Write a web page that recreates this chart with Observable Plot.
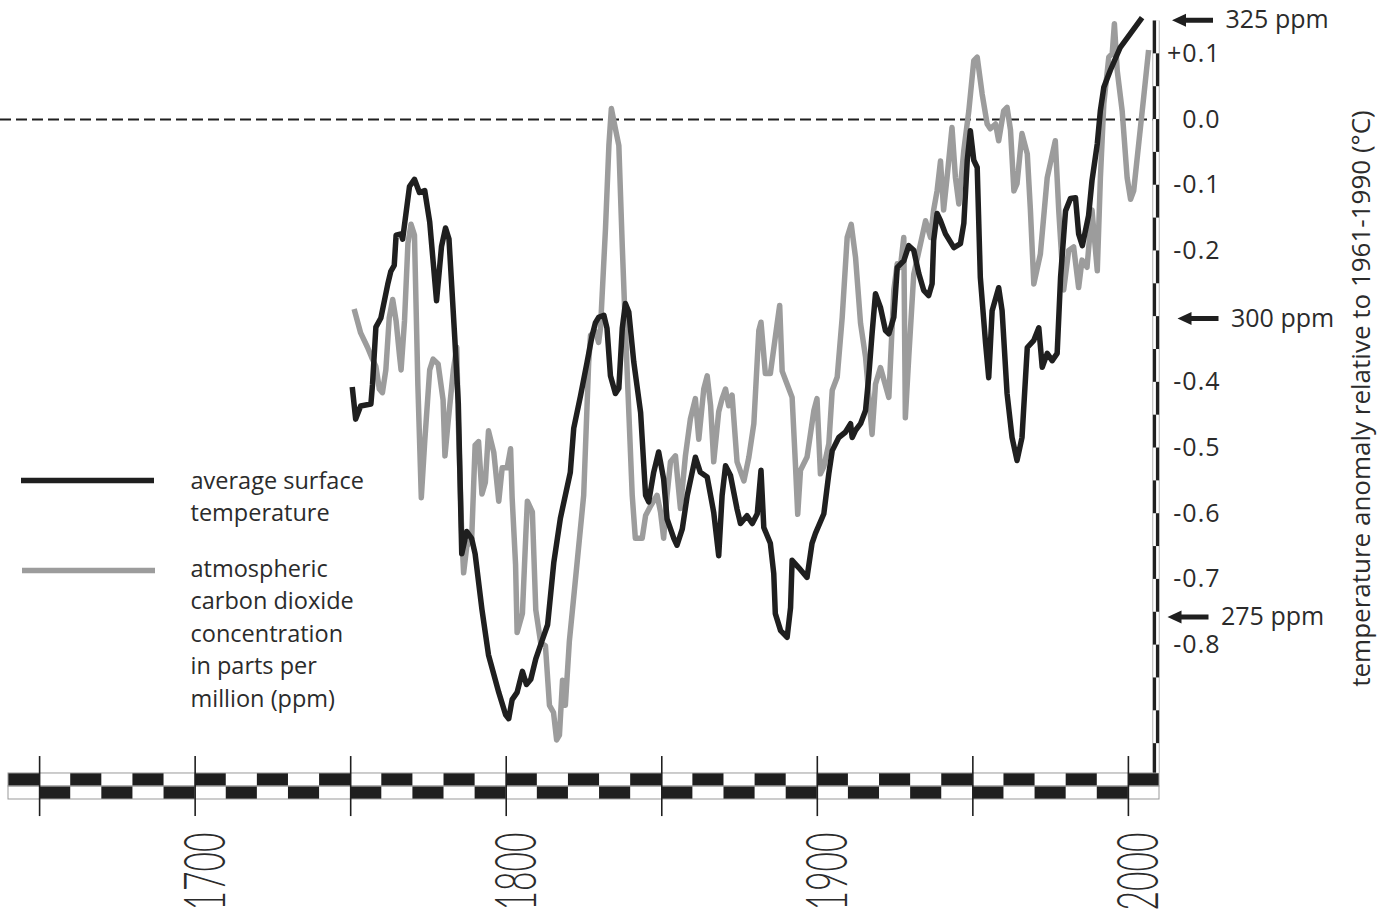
<!DOCTYPE html>
<html>
<head>
<meta charset="utf-8">
<script src="https://cdn.jsdelivr.net/npm/d3@7"></script>
<script src="https://cdn.jsdelivr.net/npm/@observablehq/plot@0.6"></script>
<style>
  html, body { margin: 0; padding: 0; background: #fff; }
  #chart svg { display: block; }
  g[aria-label="y-title"] text { letter-spacing: 1.8px; }
  g[aria-label="legend-text"] text { letter-spacing: 1.8px; }
  g[aria-label="ppm-label"] text { letter-spacing: 1px; }
  g[aria-label="y-axis tick label"] text { letter-spacing: 1px; }
</style>
</head>
<body>
<div id="chart"></div>
<script>
// ---- data ----
const tempYears = [1750.5,1751.6,1753.2,1756.5,1757.0,1758.1,1759.7,1761.9,1762.9,1764.0,1764.6,1766.2,1766.7,1768.9,1770.5,1772.1,1773.8,1775.4,1777.6,1779.2,1780.5,1781.6,1783.5,1784.6,1785.7,1787.3,1788.9,1790.0,1792.2,1794.3,1797.6,1799.8,1800.8,1801.9,1803.5,1805.2,1806.5,1807.9,1809.5,1811.6,1813.3,1815.3,1817.4,1820.6,1821.7,1823.9,1826.0,1827.6,1828.7,1829.7,1831.4,1832.4,1833.5,1835.1,1836.2,1837.3,1838.3,1839.4,1841.0,1843.2,1844.8,1845.8,1847.4,1849.0,1850.6,1851.7,1853.9,1854.9,1856.6,1858.2,1860.8,1862.4,1864.6,1866.7,1868.3,1869.4,1870.5,1872.1,1874.2,1875.3,1877.4,1879.1,1880.7,1881.9,1882.8,1884.9,1886.0,1886.5,1888.2,1890.3,1891.4,1891.9,1894.0,1896.7,1898.3,1899.4,1902.1,1903.7,1904.8,1906.9,1909.0,1910.7,1911.2,1912.3,1913.9,1915.5,1916.5,1917.6,1918.7,1920.3,1921.9,1923.0,1924.6,1925.7,1927.8,1929.4,1931.0,1932.6,1934.2,1935.8,1936.9,1937.4,1938.5,1939.6,1941.2,1943.9,1946.0,1947.1,1948.2,1949.2,1950.3,1951.4,1952.4,1954.1,1955.1,1956.2,1958.3,1959.4,1961.0,1962.6,1964.2,1965.8,1967.5,1969.6,1971.2,1972.3,1973.9,1975.5,1977.1,1978.2,1979.8,1981.4,1983.0,1984.0,1985.2,1987.2,1988.3,1990.0,1991.0,1992.1,1994.2,1997.4,2000.7,2004.4];
const tempValues = [-0.407,-0.456,-0.436,-0.433,-0.404,-0.316,-0.302,-0.251,-0.231,-0.222,-0.176,-0.174,-0.182,-0.102,-0.091,-0.111,-0.108,-0.156,-0.276,-0.193,-0.165,-0.182,-0.336,-0.433,-0.661,-0.627,-0.638,-0.661,-0.746,-0.815,-0.872,-0.906,-0.912,-0.883,-0.872,-0.840,-0.860,-0.852,-0.821,-0.792,-0.769,-0.674,-0.607,-0.537,-0.470,-0.420,-0.369,-0.329,-0.309,-0.301,-0.298,-0.318,-0.390,-0.417,-0.409,-0.318,-0.280,-0.293,-0.369,-0.446,-0.572,-0.582,-0.537,-0.506,-0.547,-0.608,-0.638,-0.648,-0.623,-0.572,-0.514,-0.537,-0.544,-0.598,-0.664,-0.572,-0.527,-0.542,-0.593,-0.615,-0.603,-0.615,-0.600,-0.534,-0.621,-0.645,-0.691,-0.752,-0.778,-0.788,-0.743,-0.671,-0.682,-0.697,-0.645,-0.630,-0.600,-0.539,-0.504,-0.484,-0.476,-0.463,-0.484,-0.473,-0.463,-0.443,-0.393,-0.326,-0.265,-0.286,-0.321,-0.326,-0.301,-0.225,-0.215,-0.192,-0.199,-0.234,-0.260,-0.268,-0.250,-0.184,-0.143,-0.154,-0.174,-0.195,-0.189,-0.158,-0.062,-0.017,-0.062,-0.073,-0.240,-0.341,-0.393,-0.291,-0.256,-0.291,-0.417,-0.484,-0.519,-0.484,-0.347,-0.336,-0.317,-0.377,-0.356,-0.367,-0.356,-0.240,-0.139,-0.120,-0.119,-0.174,-0.192,-0.146,-0.093,-0.037,0.014,0.049,0.075,0.110,0.131,0.155];

const co2Years = [1751.1,1753.2,1755.4,1757.0,1758.1,1759.2,1760.2,1761.3,1762.4,1763.5,1764.6,1765.7,1766.2,1767.3,1768.4,1769.4,1770.5,1771.6,1772.7,1773.8,1775.4,1776.5,1778.1,1779.7,1780.3,1781.3,1783.0,1784.1,1784.6,1785.7,1786.3,1787.3,1788.9,1790.0,1791.1,1792.2,1793.3,1794.3,1796.0,1797.6,1798.7,1800.3,1801.4,1801.9,1803.0,1803.5,1805.2,1806.3,1806.8,1808.4,1809.5,1811.1,1812.6,1813.9,1815.2,1816.2,1817.1,1818.1,1819.0,1820.3,1821.9,1822.8,1824.9,1826.5,1827.1,1828.7,1829.7,1830.3,1831.9,1833.0,1833.8,1835.1,1836.2,1837.3,1838.3,1839.4,1840.5,1841.5,1843.7,1844.8,1846.4,1848.5,1849.6,1850.6,1851.7,1852.8,1854.4,1856.0,1857.6,1859.2,1860.8,1861.9,1863.5,1864.6,1865.7,1866.7,1868.3,1869.4,1870.5,1871.5,1872.6,1874.2,1876.4,1878.0,1879.6,1881.2,1881.9,1883.3,1884.9,1887.1,1887.9,1888.7,1890.3,1891.9,1893.0,1893.7,1894.6,1896.7,1898.9,1899.9,1901.0,1902.1,1903.7,1904.8,1906.4,1908.0,1909.6,1910.9,1912.3,1913.9,1915.5,1917.6,1918.7,1920.3,1923.0,1924.6,1925.7,1926.7,1927.8,1928.3,1929.4,1931.0,1933.2,1934.8,1936.4,1937.4,1938.5,1939.6,1940.6,1941.7,1943.3,1944.4,1945.5,1947.1,1948.7,1950.3,1951.4,1953.0,1954.6,1955.6,1957.3,1958.3,1959.9,1961.0,1962.1,1963.2,1964.2,1965.8,1967.5,1968.5,1969.6,1971.7,1973.9,1976.5,1977.6,1979.2,1980.8,1982.4,1984.0,1985.1,1986.7,1988.3,1990.0,1991.0,1992.1,1993.7,1994.8,1995.5,1996.4,1998.0,1999.6,2000.7,2001.7,2003.3,2004.9,2006.5];
const co2Values = [300.8,298.8,297.6,296.6,296.0,294.1,293.8,295.7,300.1,301.6,299.8,296.9,295.7,299.8,306.3,307.9,307.0,294.4,285.0,289.7,295.7,296.6,296.2,293.2,288.5,291.3,295.7,297.6,291.3,281.9,278.7,280.9,281.6,289.4,289.7,285.3,286.3,290.6,288.8,284.7,287.5,287.5,289.1,285.0,279.4,273.7,275.3,281.9,284.7,283.8,275.6,272.8,272.6,267.6,267.0,264.7,265.1,269.7,267.6,273.0,277.2,279.6,285.2,296.3,298.6,298.9,298.0,299.2,307.5,314.5,317.6,315.9,314.5,306.1,299.2,292.2,285.2,281.6,281.6,283.5,284.3,285.2,283.8,281.6,285.2,288.0,288.5,284.1,288.5,291.6,293.3,289.9,294.1,295.2,292.7,288.0,292.2,293.3,294.1,292.7,293.6,288.0,286.4,288.4,291.2,299.0,299.7,295.4,295.4,299.6,301.1,295.6,294.5,293.4,287.6,283.6,287.3,288.4,292.3,293.3,287.0,287.6,289.5,294.0,295.1,300.1,306.8,307.9,305.1,299.6,296.8,290.3,294.5,295.9,293.4,302.4,304.6,304.3,306.8,291.7,296.8,303.7,306.3,308.2,306.8,309.1,310.7,313.2,309.1,311.8,316.0,311.8,309.6,314.1,317.4,321.6,321.9,318.8,316.3,315.9,316.3,314.9,317.4,317.7,315.8,310.7,311.3,315.5,313.8,309.1,302.9,305.4,311.8,314.9,309.1,302.4,305.7,306.0,302.6,304.9,304.3,309.1,304.0,311.8,318.0,321.9,322.2,324.7,320.8,317.4,311.8,310.0,310.7,314.6,318.5,322.5];

const yTickValues = [0.1, 0, -0.1, -0.2, -0.4, -0.5, -0.6, -0.7, -0.8];
const ppmMarks = [325, 300, 275];
const yearLabels = [1700, 1800, 1900, 2000];
const yearTicks = [1650, 1700, 1750, 1800, 1850, 1900, 1950, 2000];
const legendTemp = "average surface\ntemperature";
const legendCO2 = "atmospheric\ncarbon dioxide\nconcentration\nin parts per\nmillion (ppm)";
const yTitle = "temperature anomaly relative to 1961-1990 (°C)";

// ---- build tables ----
const temp = tempYears.map((y, i) => ({year: y, value: tempValues[i]}));
const co2 = co2Years.map((y, i) => ({year: y, ppm: co2Values[i]}));
// ppm axis (arrows) shares the plot with the temperature axis
const co2ToTemp = p => -0.303 + (p - 300) * 0.01817;

// decorative scale bars
const decades = d3.range(1640, 2010, 10);
const stripTop = [-0.9954, -1.0152], stripBot = [-1.0152, -1.035];
const vCells = [];
for (let i = 0, t = 0.15; t > -0.995 + 1e-9; i++, t -= 0.05) {
  vCells.push({i, y1: t, y2: Math.max(t - 0.05, -0.995)});
}

const INK = "#1f1f1f", GREY = "#9c9c9c", TEXT = "#2b2b2b";
const FONT = "'Open Sans', 'Noto Sans', sans-serif";

const arrowSymbol = {
  draw(ctx) {
    ctx.moveTo(-21, 0); ctx.lineTo(-7, -6.5); ctx.lineTo(-7, -2.5); ctx.lineTo(20, -2.5);
    ctx.lineTo(20, 2.5); ctx.lineTo(-7, 2.5); ctx.lineTo(-7, 6.5); ctx.closePath();
  }
};
const barSymbol = {
  draw(ctx) { ctx.moveTo(-66.5, -2.75); ctx.lineTo(66.5, -2.75); ctx.lineTo(66.5, 2.75); ctx.lineTo(-66.5, 2.75); ctx.closePath(); }
};
const arrowShift = {325: 33.5, 300: 39, 275: 29};

const marks = [
  // zero reference
  Plot.ruleY([0], {stroke: INK, strokeWidth: 2, strokeDasharray: "11,5"}),
  // series
  Plot.line(co2, {x: "year", y: d => co2ToTemp(d.ppm), stroke: GREY, strokeWidth: 5.5, strokeLinejoin: "round", strokeLinecap: "butt"}),
  Plot.line(temp, {x: "year", y: "value", stroke: INK, strokeWidth: 5.5, strokeLinejoin: "round", strokeLinecap: "butt"}),
  // bottom checker scale bar
  Plot.rect(decades.filter((d, i) => i % 2 === 0), {x1: d => d, x2: d => d + 10, y1: stripTop[0], y2: stripTop[1], fill: INK}),
  Plot.rect(decades.filter((d, i) => i % 2 === 1), {x1: d => d, x2: d => d + 10, y1: stripBot[0], y2: stripBot[1], fill: INK}),
  Plot.rect([stripTop, stripBot], {x1: 1640, x2: 2010, y1: d => d[0], y2: d => d[1], fill: "none", stroke: "#9a9a9a", strokeWidth: 1}),
  Plot.ruleX(yearTicks, {y1: -0.9696, y2: -1.061, stroke: INK, strokeWidth: 1.6}),
  // right checker scale bar
  Plot.ruleX([0], {x: 2010, y1: 0.15, y2: -0.995, dx: -3.5, stroke: "#b5b5b5", strokeWidth: 7.5}),
  Plot.ruleX([0], {x: 2010, y1: 0.15, y2: -0.995, dx: -3.5, stroke: "#fff", strokeWidth: 5.5}),
  Plot.ruleX(vCells.filter(c => c.i % 2 === 0), {x: 2010, y1: "y1", y2: "y2", dx: -5, stroke: INK, strokeWidth: 3.2}),
  Plot.ruleX(vCells.filter(c => c.i % 2 === 1), {x: 2010, y1: "y1", y2: "y2", dx: -2, stroke: INK, strokeWidth: 3.2}),
  // axes
  Plot.axisY({anchor: "right", ticks: yTickValues, tickSize: 0, tickPadding: 0, textAnchor: "end", dx: 61,
    tickFormat: d => (d > 0 ? "+" : "") + (Math.abs(d) < 1e-9 ? "0.0" : d.toFixed(1)),
    fontSize: 25, fill: TEXT, label: null}),
  Plot.axisX({anchor: "bottom", ticks: yearLabels, tickSize: 0, tickPadding: 12, tickRotate: -90, dx: 11,
    tickFormat: d => String(d), fontSize: 58, fontWeight: 300, fill: TEXT, label: null,
    fontFamily: "'Lato', 'Open Sans', sans-serif"}),
  Plot.text([yTitle], {text: d => d, frameAnchor: "right", dx: 202, dy: -12, rotate: -90, textAnchor: "middle",
    fontSize: 26, fill: TEXT, ariaLabel: "y-title"}),
  // legend
  Plot.dot([0], {frameAnchor: "top-left", dx: 87, dy: 480, symbol: barSymbol, fill: INK, stroke: "none", r: 5}),
  Plot.dot([0], {frameAnchor: "top-left", dx: 88, dy: 570, symbol: barSymbol, fill: GREY, stroke: "none", r: 5}),
  Plot.text([legendTemp], {text: d => d, frameAnchor: "top-left", dx: 190, dy: 494, textAnchor: "start", lineAnchor: "middle",
    lineHeight: 1.38, fontSize: 23.5, fill: TEXT, ariaLabel: "legend-text"}),
  Plot.text([legendCO2], {text: d => d, frameAnchor: "top-left", dx: 190, dy: 631, textAnchor: "start", lineAnchor: "middle",
    lineHeight: 1.38, fontSize: 23.5, fill: TEXT, ariaLabel: "legend-text"})
];
for (const p of ppmMarks) {
  marks.push(Plot.dot([p], {y: d => co2ToTemp(d), frameAnchor: "right", dx: arrowShift[p], symbol: arrowSymbol, fill: INK, stroke: "none", r: 5}));
  marks.push(Plot.text([p], {y: d => co2ToTemp(d), text: d => `${d} ppm`, frameAnchor: "right", dx: arrowShift[p] + 32.5,
    textAnchor: "start", fontSize: 25, fill: TEXT, ariaLabel: "ppm-label"}));
}

const chart = Plot.plot({
  width: 1385,
  height: 915,
  marginLeft: 0,
  marginRight: 226,
  marginTop: 0,
  marginBottom: 95,
  x: {domain: [1640, 2010], range: [8, 1159]},
  y: {domain: [0.15, -1.0], range: [20.5, 776]},
  style: {fontFamily: FONT, background: "#fff", color: TEXT, overflow: "visible"},
  marks
});
document.getElementById("chart").appendChild(chart);

// condense the rotated year labels (narrow, tall digits as in the reference)
d3.select(chart).selectAll('g[aria-label="x-axis tick label"] text').each(function () {
  const t = this.getAttribute("transform") || "";
  this.setAttribute("transform", t + " scale(0.58,1)");
});
</script>
</body>
</html>
